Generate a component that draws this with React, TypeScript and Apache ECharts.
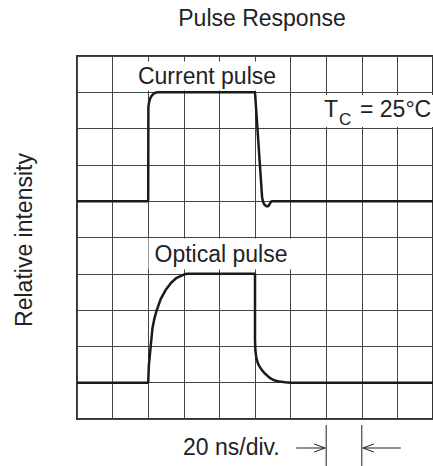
import React, { useEffect, useRef } from "react";
import * as echarts from "echarts";

// time axis in divisions (20 ns/div), intensity in grid divisions
const currentX = [0, 2.0, 2.005, 2.025, 2.06, 2.1, 2.15, 2.2, 2.28, 5.0, 5.2, 5.23, 5.27, 5.32, 5.37, 5.41, 5.45, 5.5, 10];
const currentY = [6, 6, 8.6, 8.73, 8.84, 8.91, 8.96, 8.99, 9.0, 9.0, 6.1, 5.97, 5.9, 5.86, 5.86, 5.92, 5.99, 6.0, 6];
const opticalX = [0, 2.0, 2.02, 2.07, 2.12, 2.17, 2.24, 2.35, 2.5, 2.65, 2.8, 3.0, 3.1, 5.0, 5.0, 5.01, 5.04, 5.08, 5.13, 5.2, 5.27, 5.36, 5.45, 5.56, 5.68, 5.85, 6.0, 10];
const opticalY = [1, 1, 1.5, 2.0, 2.5, 2.75, 3.0, 3.3, 3.57, 3.76, 3.89, 3.98, 4.0, 4.0, 2.2, 1.9, 1.67, 1.54, 1.44, 1.34, 1.26, 1.18, 1.11, 1.06, 1.03, 1.01, 1.0, 1];

const titleText = "Pulse Response";
const yAxisName = "Relative intensity";
const scaleText = "20 ns/div.";
const currentLabel = "Current pulse";
const opticalLabel = "Optical pulse";
const scaleMarks = [7, 8];

export default function App() {
  const ref = useRef<HTMLDivElement>(null);
  useEffect(() => {
    const chart = echarts.init(ref.current!, null, { renderer: "svg", width: 433, height: 466 });
    const font = "'Liberation Sans', Arial, Helvetica, sans-serif";
    const ink = "#222";
    const axisCommon = {
      type: "value",
      min: 0,
      max: 10,
      interval: 1,
      axisLine: { show: false },
      axisTick: { show: false },
      axisLabel: { show: false },
      splitLine: { show: true, lineStyle: { color: "#444", width: 1 } },
    };
    const curve = { color: "#1a1a1a", width: 2.5 };
    chart.setOption({
      animation: false,
      backgroundColor: "#fff",
      grid: { left: 77, top: 56, width: 364, height: 363, show: true, borderColor: "#333", borderWidth: 2 },
      xAxis: axisCommon,
      yAxis: axisCommon,
      series: [
        { type: "line", data: currentX.map((x, i) => [x, currentY[i]]), showSymbol: false, lineStyle: curve, z: 5 },
        { type: "line", data: opticalX.map((x, i) => [x, opticalY[i]]), showSymbol: false, lineStyle: curve, z: 5 },
      ],
    });
    const m0 = chart.convertToPixel({ gridIndex: 0 }, [scaleMarks[0], 0]) as number[];
    const m1 = chart.convertToPixel({ gridIndex: 0 }, [scaleMarks[1], 0]) as number[];
    const ay = 448;
    chart.setOption({
      graphic: [
        { type: "text", x: 262, y: 18, z: 10, style: { text: titleText, font: `23px ${font}`, fill: ink, align: "center", verticalAlign: "middle" } },
        { type: "text", x: 24, y: 240, rotation: Math.PI / 2, z: 10, style: { text: yAxisName, font: `23px ${font}`, fill: ink, align: "center", verticalAlign: "middle" } },
        { type: "text", x: 207, y: 76, z: 3, style: { text: currentLabel, font: `23px ${font}`, fill: ink, align: "center", verticalAlign: "middle", backgroundColor: "#fff", padding: [3, 6] } },
        { type: "text", x: 221, y: 254, z: 3, style: { text: opticalLabel, font: `23px ${font}`, fill: ink, align: "center", verticalAlign: "middle", backgroundColor: "#fff", padding: [4, 6] } },
        { type: "rect", z: 3, shape: { x: 318, y: 95, width: 120, height: 32 }, style: { fill: "#fff" } },
        { type: "text", x: 324, y: 109, z: 4, style: { text: "T", font: `23px ${font}`, fill: ink, align: "left", verticalAlign: "middle" } },
        { type: "text", x: 339, y: 119, z: 4, style: { text: "C", font: `17px ${font}`, fill: ink, align: "left", verticalAlign: "middle" } },
        { type: "text", x: 360, y: 109, z: 4, style: { text: "= 25°C", font: `23px ${font}`, fill: ink, align: "left", verticalAlign: "middle" } },
        { type: "text", x: 183, y: 447, z: 10, style: { text: scaleText, font: `23px ${font}`, fill: ink, align: "left", verticalAlign: "middle" } },
        { type: "line", z: 10, shape: { x1: m0[0], y1: 425, x2: m0[0], y2: 466 }, style: { stroke: ink, lineWidth: 1 } },
        { type: "line", z: 10, shape: { x1: m1[0], y1: 425, x2: m1[0], y2: 466 }, style: { stroke: ink, lineWidth: 1 } },
        { type: "line", z: 10, shape: { x1: m0[0] - 30, y1: ay, x2: m0[0] - 1, y2: ay }, style: { stroke: ink, lineWidth: 1 } },
        { type: "polyline", z: 10, shape: { points: [[m0[0] - 12, ay - 4], [m0[0] - 1, ay], [m0[0] - 12, ay + 4]] }, style: { stroke: ink, lineWidth: 1, fill: "none" } },
        { type: "line", z: 10, shape: { x1: m1[0] + 1, y1: ay, x2: m1[0] + 39, y2: ay }, style: { stroke: ink, lineWidth: 1 } },
        { type: "polyline", z: 10, shape: { points: [[m1[0] + 12, ay - 4], [m1[0] + 1, ay], [m1[0] + 12, ay + 4]] }, style: { stroke: ink, lineWidth: 1, fill: "none" } },
      ],
    });
    return () => chart.dispose();
  }, []);
  return <div ref={ref} style={{ position: "fixed", left: 0, top: 0, width: 433, height: 466, background: "#fff" }} />;
}
